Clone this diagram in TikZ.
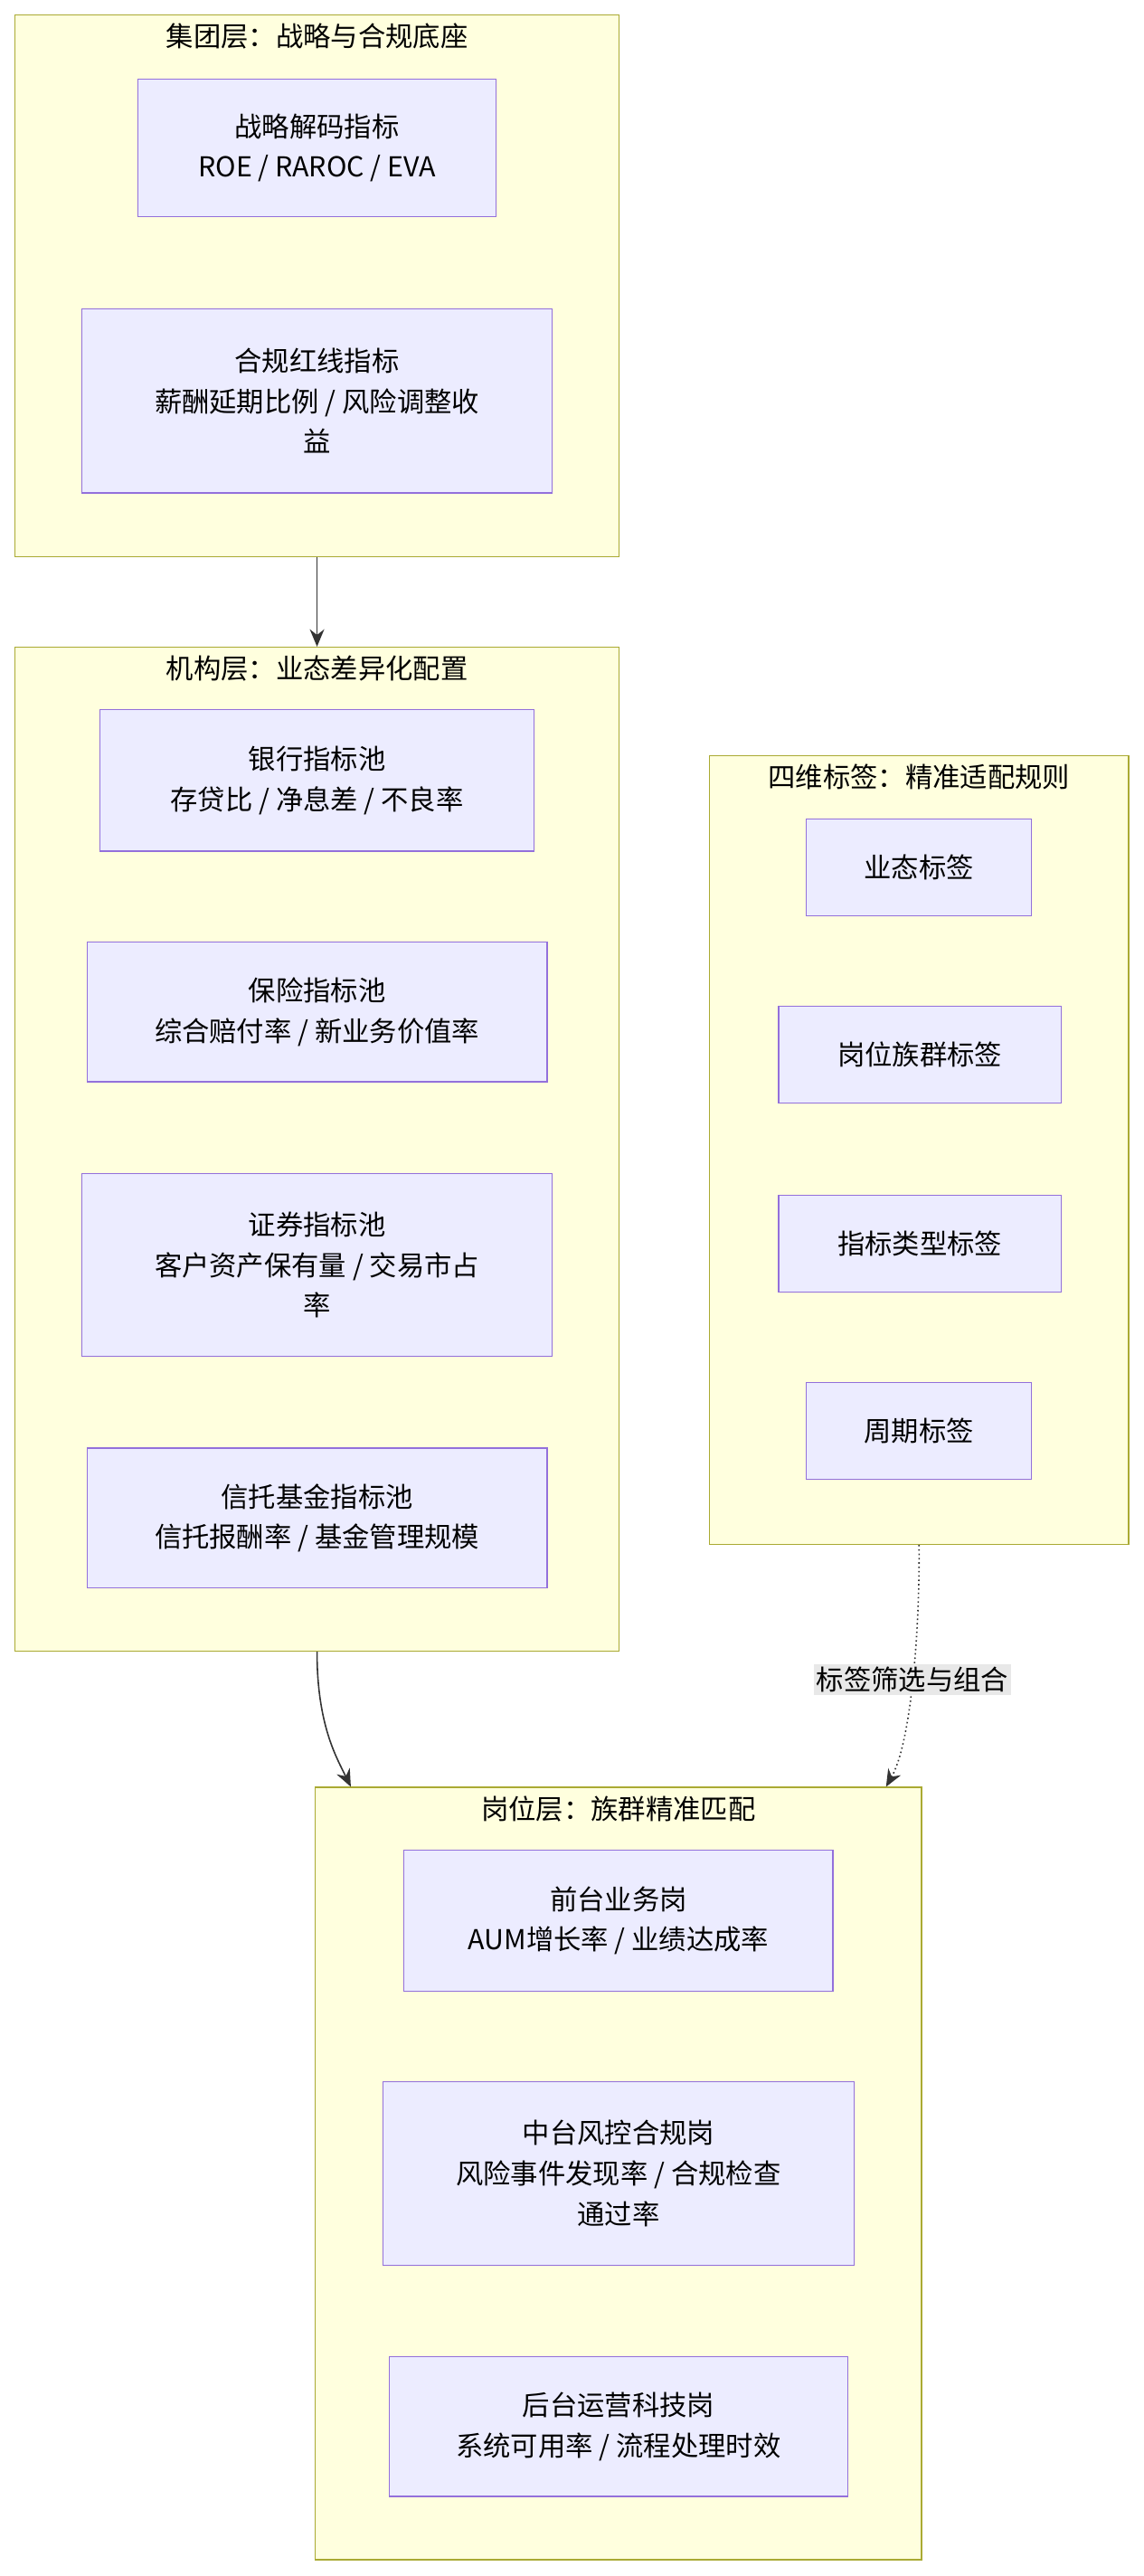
\documentclass[tikz,border=0pt]{standalone}
\usepackage{fontspec}
\setmainfont{Noto Sans CJK SC}
\usetikzlibrary{positioning, arrows.meta}
\definecolor{layerfill}{HTML}{FFFFDE}
\definecolor{layerline}{HTML}{AAAA33}
\definecolor{itemfill}{HTML}{ECECFF}
\definecolor{itemline}{HTML}{9370DB}
\definecolor{edgeline}{HTML}{333333}
\definecolor{labelfill}{HTML}{E8E8E8}

\begin{document}
\begin{tikzpicture}[
  x=0.04cm, y=-0.04cm,
  font=\fontsize{19}{28}\selectfont,
  layer/.style={
    draw=layerline,
    fill=layerfill,
    line width=0.8pt,
  },
  layertitle/.style={
    anchor=north,
    inner sep=2pt,
    yshift=-4pt,
  },
  item/.style={
    draw=itemline,
    fill=itemfill,
    line width=0.8pt,
    align=center,
  },
  flow/.style={
    draw=edgeline,
    line width=1pt,
    -{Stealth[length=12pt,width=10pt]},
  }
]
  \useasboundingbox (0,0) rectangle (696,1568);

  % 集团层
  \node[layer, minimum width=14.72cm, minimum height=13.2cm] (group) at (193,174) {};
  \node[layertitle] (group-t) at (group.north) {集团层：战略与合规底座};
  \node[item, minimum width=8.72cm, minimum height=3.36cm] (strat) at (193,90) {战略解码指标\\ROE / RAROC / EVA};
  \node[item, minimum width=11.44cm, minimum height=4.48cm] (comp) at (193,244) {合规红线指标\\薪酬延期比例 / 风险调整收\\益};

  % 机构层
  \node[layer, minimum width=14.72cm, minimum height=24.44cm] (inst) at (193,699.5) {};
  \node[layertitle] (inst-t) at (inst.north) {机构层：业态差异化配置};
  \node[item, minimum width=10.56cm, minimum height=3.44cm] (bank) at (193,475) {银行指标池\\存贷比 / 净息差 / 不良率};
  \node[item, minimum width=11.2cm, minimum height=3.4cm] (insur) at (193,616) {保险指标池\\综合赔付率 / 新业务价值率};
  \node[item, minimum width=11.44cm, minimum height=4.44cm] (secur) at (193,770) {证券指标池\\客户资产保有量 / 交易市占\\率};
  \node[item, minimum width=11.2cm, minimum height=3.4cm] (trust) at (193,924) {信托基金指标池\\信托报酬率 / 基金管理规模};

  % 四维标签
  \node[layer, minimum width=10.2cm, minimum height=19.2cm] (tags) at (559.5,700) {};
  \node[layertitle] (tags-t) at (tags.north) {四维标签：精准适配规则};
  \node[item, minimum width=5.48cm, minimum height=2.36cm] (tag-biz) at (559.5,528) {业态标签};
  \node[item, minimum width=6.88cm, minimum height=2.36cm] (tag-post) at (560,642) {岗位族群标签};
  \node[item, minimum width=6.88cm, minimum height=2.36cm] (tag-kind) at (560,757) {指标类型标签};
  \node[item, minimum width=5.48cm, minimum height=2.36cm] (tag-cycle) at (559.5,871) {周期标签};

  % 岗位层
  \node[layer, minimum width=14.76cm, minimum height=18.8cm] (post) at (376.5,1323) {};
  \node[layertitle] (post-t) at (post.north) {岗位层：族群精准匹配};
  \node[item, minimum width=10.44cm, minimum height=3.44cm] (front) at (376.5,1169) {前台业务岗\\AUM增长率 / 业绩达成率};
  \node[item, minimum width=11.48cm, minimum height=4.48cm] (middle) at (376.5,1323) {中台风控合规岗\\风险事件发现率 / 合规检查\\通过率};
  \node[item, minimum width=11.16cm, minimum height=3.4cm] (back) at (376.5,1477) {后台运营科技岗\\系统可用率 / 流程处理时效};

  % 连线
  \draw[flow] (group.south) -- (inst.north);
  \draw[flow] (inst.south) .. controls (193,1050) and (205,1070) .. ([xshift=25pt]post.north west);
  \draw[flow, dotted] (tags.south) .. controls (560,990) and (555,1060) .. ([xshift=-25pt]post.north east)
    node[pos=0.5, fill=labelfill, inner sep=2pt] (filter) {标签筛选与组合};
\end{tikzpicture}
\end{document}
